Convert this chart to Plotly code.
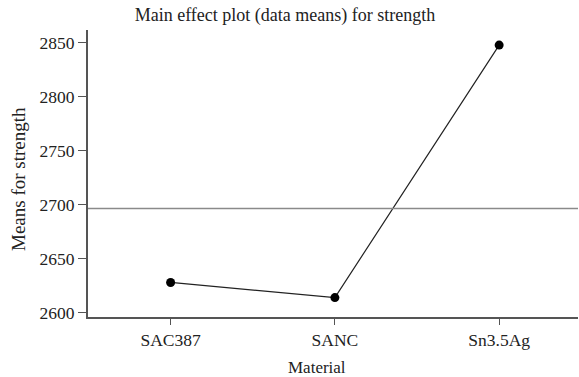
import plotly.graph_objects as go

materials = ["SAC387", "SANC", "Sn3.5Ag"]
means = [2628, 2614, 2848]
grand_mean = sum(means) / len(means)
y_ticks = [2600, 2650, 2700, 2750, 2800, 2850]

FONT = "'Liberation Serif', 'Times New Roman', serif"
xs = list(range(len(materials)))

fig = go.Figure()
fig.add_trace(go.Scatter(
    x=xs, y=means, mode="lines+markers",
    line=dict(color="#222222", width=1.2),
    marker=dict(color="black", size=9),
    showlegend=False,
))
fig.add_hline(y=grand_mean, line=dict(color="#8a8a8a", width=1.5))

fig.update_layout(
    width=579, height=377,
    margin=dict(l=88, r=1, t=30, b=60),
    plot_bgcolor="white", paper_bgcolor="white",
    font=dict(family=FONT, size=16, color="#222222"),
    title=dict(text="Main effect plot (data means) for strength",
               x=285 / 579, xanchor="center", y=1 - 15 / 377, yanchor="middle",
               font=dict(family=FONT, size=18, color="#222222")),
    xaxis=dict(
        range=[-0.503, 2.48],
        tickvals=xs, ticktext=materials,
        showgrid=False, zeroline=False,
        showline=True, linecolor="#555555", linewidth=2,
        ticks="outside", ticklen=6, tickcolor="#555555",
        tickfont=dict(family=FONT, size=17.5, color="#222222"),
    ),
    yaxis=dict(
        range=[2596, 2862],
        tickvals=y_ticks,
        showgrid=False, zeroline=False,
        showline=True, linecolor="#555555", linewidth=2,
        ticks="outside", ticklen=8, tickcolor="#555555",
        tickfont=dict(family=FONT, size=17.5, color="#222222"),
    ),
    annotations=[
        dict(text="Material", xref="paper", yref="paper",
             x=(317 - 88) / 490, y=-(367 - 317) / 287,
             xanchor="center", yanchor="middle", showarrow=False,
             font=dict(family=FONT, size=17, color="#222222")),
        dict(text="Means for strength", xref="paper", yref="paper",
             x=-(88 - 18) / 490, y=(317 - 179) / 287, textangle=-90,
             xanchor="center", yanchor="middle", showarrow=False,
             font=dict(family=FONT, size=19, color="#222222")),
    ],
)

fig.write_html("out.html")
